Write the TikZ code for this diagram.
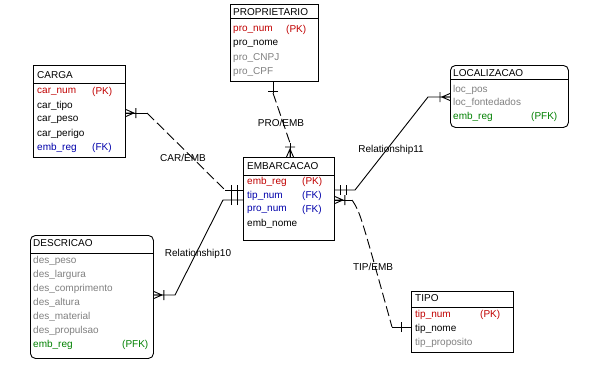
\documentclass[tikz,border=0pt]{standalone}
\usepackage{fontspec}
\setmainfont{Liberation Sans}
\usetikzlibrary{positioning,calc}
\definecolor{erred}{RGB}{192,0,0}
\definecolor{erblue}{RGB}{0,0,170}
\definecolor{ergray}{RGB}{128,128,128}
\definecolor{ergreen}{RGB}{0,128,0}
\newcommand{\erfont}{\fontsize{10}{12}\selectfont}
\tikzset{
  entity/.style={draw, line width=0.9pt, anchor=north west, inner sep=0pt},
  depent/.style={entity, rounded corners=5pt},
  label/.style={anchor=west, inner sep=0pt, font=\erfont},
  pkattr/.style={label, text=erred},
  fkattr/.style={label, text=erblue},
  nkattr/.style={label, text=ergray},
  pfkattr/.style={label, text=ergreen},
  rel/.style={line width=0.9pt},
  nonid/.style={rel, dash pattern=on 10pt off 4pt},
  relname/.style={inner sep=0pt, font=\erfont},
  crowfoot/.pic={\draw[rel] (0,-3.5) -- (8,0) -- (0,3.5) (0,0) -- (8,0) (10,-5) -- (10,5);},
  onebar/.pic={\draw[rel] (10,-5) -- (10,5);},
  twobar/.pic={\draw[rel] (6,-5) -- (6,5) (12,-5) -- (12,5);}
}

\begin{document}
\begin{tikzpicture}[x=1pt, y=-1pt]
    \useasboundingbox (0,0) rectangle (594,378);
    % PROPRIETARIO
    \node[entity, minimum width=88pt, minimum height=77pt] (prop) at (230,4) {};
    \draw[rel] ([yshift=-14pt]prop.north west) -- ([yshift=-14pt]prop.north east);
    \node[label] (propt) at (233,12) {PROPRIETARIO};
    \node[pkattr] (pronum) at (233,30) {pro\_num};
    \node[pkattr] (pronumk) at (286,30) {(PK)};
    \node[label] (pronome) at (233,44) {pro\_nome};
    \node[nkattr] (procnpj) at (233,58) {pro\_CNPJ};
    \node[nkattr] (procpf) at (233,72) {pro\_CPF};
    % CARGA
    \node[entity, minimum width=92pt, minimum height=92pt] (carga) at (33,65) {};
    \draw[rel] ([yshift=-18pt]carga.north west) -- ([yshift=-18pt]carga.north east);
    \node[label] (cargat) at (37,75) {CARGA};
    \node[pkattr] (carnum) at (37,92) {car\_num};
    \node[pkattr] (carnumk) at (92,92) {(PK)};
    \node[label] (cartipo) at (37,106) {car\_tipo};
    \node[label] (carpeso) at (37,120) {car\_peso};
    \node[label] (carperigo) at (37,134) {car\_perigo};
    \node[fkattr] (carreg) at (37,148) {emb\_reg};
    \node[fkattr] (carregk) at (92,148) {(FK)};
    % LOCALIZACAO
    \node[depent, minimum width=118pt, minimum height=62pt] (loc) at (450,65) {};
    \draw[rel] ([yshift=-14pt]loc.north west) -- ([yshift=-14pt]loc.north east);
    \node[label] (loct) at (453,73) {LOCALIZACAO};
    \node[nkattr] (locpos) at (453,90) {loc\_pos};
    \node[nkattr] (locfonte) at (453,103) {loc\_fontedados};
    \node[pfkattr] (locreg) at (453,117) {emb\_reg};
    \node[pfkattr] (locregk) at (531,117) {(PFK)};
    % EMBARCACAO
    \node[entity, minimum width=91pt, minimum height=83pt] (emb) at (243,157) {};
    \draw[rel] ([yshift=-18pt]emb.north west) -- ([yshift=-18pt]emb.north east);
    \node[label] (embt) at (247,166) {EMBARCACAO};
    \node[pkattr] (embreg) at (247,182) {emb\_reg};
    \node[pkattr] (embregk) at (302,182) {(PK)};
    \node[fkattr] (embtip) at (247,196) {tip\_num};
    \node[fkattr] (embtipk) at (302,196) {(FK)};
    \node[fkattr] (embpro) at (247,210) {pro\_num};
    \node[fkattr] (embprok) at (302,210) {(FK)};
    \node[label] (embnome) at (247,224) {emb\_nome};
    % DESCRICAO
    \node[depent, minimum width=123pt, minimum height=123pt] (desc) at (30,235) {};
    \draw[rel] ([yshift=-18pt]desc.north west) -- ([yshift=-18pt]desc.north east);
    \node[label] (desct) at (33,243) {DESCRICAO};
    \node[nkattr] (despeso) at (33,261) {des\_peso};
    \node[nkattr] (deslarg) at (33,275) {des\_largura};
    \node[nkattr] (descomp) at (33,289) {des\_comprimento};
    \node[nkattr] (desalt) at (33,303) {des\_altura};
    \node[nkattr] (desmat) at (33,317) {des\_material};
    \node[nkattr] (desprop) at (33,331) {des\_propulsao};
    \node[pfkattr] (desreg) at (33,345) {emb\_reg};
    \node[pfkattr] (desregk) at (122,345) {(PFK)};
    % TIPO
    \node[entity, minimum width=102pt, minimum height=61pt] (tipo) at (411,291) {};
    \draw[rel] ([yshift=-16pt]tipo.north west) -- ([yshift=-16pt]tipo.north east);
    \node[label] (tipot) at (415,298) {TIPO};
    \node[pkattr] (tipnum) at (415,315) {tip\_num};
    \node[pkattr] (tipnumk) at (480,315) {(PK)};
    \node[label] (tipnome) at (415,329) {tip\_nome};
    \node[nkattr] (tipprop) at (415,343) {tip\_proposito};

    % CAR/EMB
    \coordinate (ce1) at (147,113);
    \coordinate (ce2) at (225,190);
    \draw[rel] (carga.east |- ce1) -- (ce1);
    \draw[nonid] (ce1) -- (ce2);
    \draw[rel] (ce2) -- (emb.west |- ce2);
    \pic at (carga.east |- ce1) {crowfoot};
    \pic[rotate=180] at (emb.west |- ce2) {twobar};
    \node[relname] (carembl) at (183,158) {CAR/EMB};
    % PRO/EMB
    \coordinate (pe1) at (273,93);
    \coordinate (pe2) at (290,143);
    \draw[rel] (prop.south -| pe1) -- (pe1);
    \draw[nonid] (pe1) -- (pe2);
    \draw[rel] (pe2) -- (emb.north -| pe2);
    \pic[rotate=-90] at (prop.south -| pe1) {onebar};
    \pic[rotate=90] at (emb.north -| pe2) {crowfoot};
    \node[relname] (proembl) at (281,123) {PRO/EMB};
    % Relationship10
    \coordinate (r10a) at (175,295);
    \coordinate (r10b) at (223,200);
    \draw[rel] (desc.east |- r10a) -- (r10a) -- (r10b) -- (emb.west |- r10b);
    \pic at (desc.east |- r10a) {crowfoot};
    \pic[rotate=180] at (emb.west |- r10b) {twobar};
    \node[relname] (rel10l) at (198,254) {Relationship10};
    % Relationship11
    \coordinate (r11a) at (355,190);
    \coordinate (r11b) at (428,97);
    \draw[rel] (emb.east |- r11a) -- (r11a) -- (r11b) -- (loc.west |- r11b);
    \pic at (emb.east |- r11a) {twobar};
    \pic[rotate=180] at (loc.west |- r11b) {crowfoot};
    \node[relname] (rel11l) at (391,150) {Relationship11};
    % TIP/EMB
    \coordinate (te1) at (352,200);
    \coordinate (te2) at (392,327);
    \draw[rel] (emb.east |- te1) -- (te1);
    \draw[nonid] (te1) .. controls (360,212) .. (te2);
    \draw[rel] (te2) -- (tipo.west |- te2);
    \pic at (emb.east |- te1) {crowfoot};
    \pic[rotate=180] at (tipo.west |- te2) {onebar};
    \node[relname] (tipembl) at (373,267) {TIP/EMB};
\end{tikzpicture}
\end{document}
